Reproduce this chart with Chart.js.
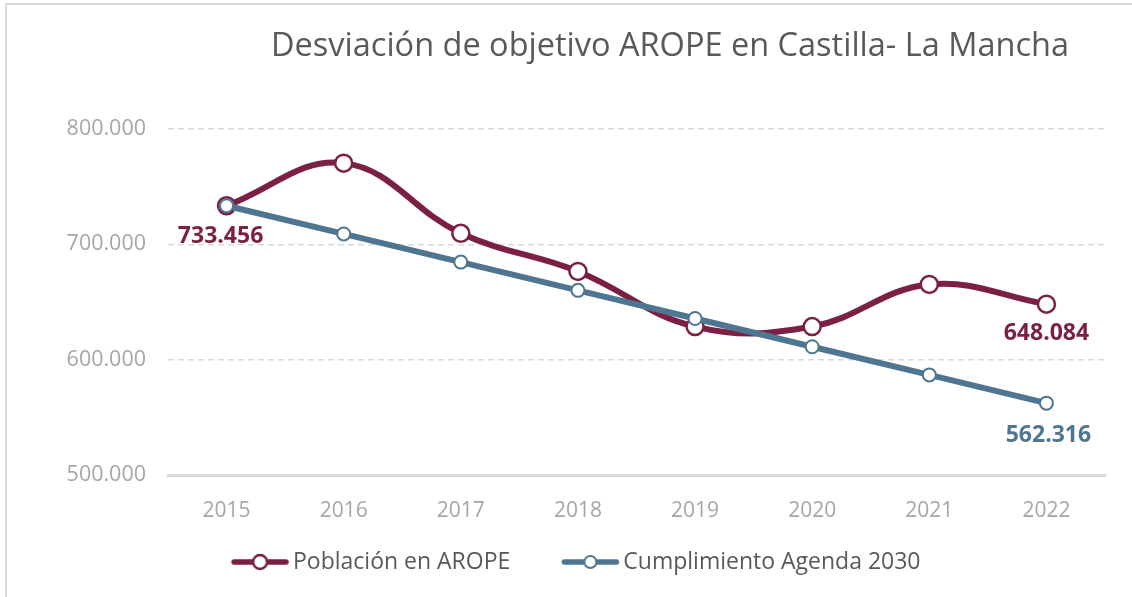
<!DOCTYPE html>
<html>
<head>
<meta charset="utf-8">
<script src="https://cdn.jsdelivr.net/npm/chart.js@4"></script>
<style>
  html, body { margin: 0; padding: 0; background: #ffffff; overflow: hidden; }
  #wrap { position: relative; width: 1132px; height: 597px; }
  #frame { position: absolute; left: 5px; top: 3px; width: 1200px; height: 700px; border: 2px solid #d9d9d9; box-sizing: border-box; pointer-events: none; }
  canvas { position: absolute; left: 0; top: 0; }
</style>
</head>
<body>
<div id="wrap">
  <canvas id="c" width="1132" height="597"></canvas>
  <div id="frame"></div>
</div>
<script>
const chartTitle = 'Desviación de objetivo AROPE en Castilla- La Mancha';
const categories = ['2015', '2016', '2017', '2018', '2019', '2020', '2021', '2022'];
const seriesNames = ['Población en AROPE', 'Cumplimiento Agenda 2030'];
const aropeValues = [733456, 770400, 709600, 676500, 628700, 628700, 665200, 648084];
const agendaValues = [733456, 709000, 684600, 660100, 635700, 611200, 586800, 562316];
const yTicks = [500000, 600000, 700000, 800000];
const labelledPoints = [
  { series: 0, index: 0, dx: -6, dy: 31 },
  { series: 0, index: 7, dx: 0, dy: 29 },
  { series: 1, index: 7, dx: 2, dy: 32 }
];

const maroon = '#7b1f45';
const steel = '#4f7690';
const grey = '#a6a6a6';
const dark = '#595959';
const FONT = "'Open Sans', 'DejaVu Sans', sans-serif";

function fmt(v) {
  return Math.round(v).toString().replace(/\B(?=(\d{3})+(?!\d))/g, '.');
}

// Legend marker: a line with a hollow circle, drawn into a canvas used as point style
const LEG_FONT = 23, LEG_PAD = 31.5, LEG_L = 19.5, LEG_BOX = 70;
function legendMarker(color, r, bw) {
  const W = 170;
  const cv = document.createElement('canvas');
  cv.width = W; cv.height = 24;
  const g = cv.getContext('2d');
  const center = W / 2;
  const startX = center + (LEG_L - LEG_BOX / 2);
  g.strokeStyle = color; g.lineWidth = 5.5; g.lineCap = 'round';
  g.beginPath(); g.moveTo(startX + 3, 12); g.lineTo(startX + 55, 12); g.stroke();
  g.beginPath(); g.arc(startX + 29, 12, r, 0, Math.PI * 2);
  g.fillStyle = '#ffffff'; g.fill();
  g.lineWidth = bw; g.strokeStyle = color; g.stroke();
  return cv;
}

const titlePlugin = {
  id: 'customTitle',
  afterDraw(chart) {
    const ctx = chart.ctx;
    ctx.save();
    ctx.font = '32.5px ' + FONT;
    ctx.fillStyle = dark;
    ctx.textAlign = 'center';
    ctx.textBaseline = 'middle';
    ctx.fillText(chartTitle, 670, 47);
    ctx.restore();
  }
};

const labelPlugin = {
  id: 'endLabels',
  afterDatasetsDraw(chart) {
    const ctx = chart.ctx;
    ctx.save();
    ctx.font = 'bold 23px ' + FONT;
    ctx.textAlign = 'center';
    ctx.textBaseline = 'middle';
    labelledPoints.forEach(p => {
      const el = chart.getDatasetMeta(p.series).data[p.index];
      const v = chart.data.datasets[p.series].data[p.index];
      ctx.fillStyle = p.series === 0 ? maroon : steel;
      ctx.fillText(fmt(v), el.x + p.dx, el.y + p.dy);
    });
    ctx.restore();
  }
};

new Chart(document.getElementById('c'), {
  type: 'line',
  data: {
    labels: categories,
    datasets: [
      {
        label: seriesNames[0],
        data: aropeValues,
        borderColor: maroon,
        backgroundColor: '#ffffff',
        borderWidth: 6,
        tension: 0.4,
        pointRadius: 8.5,
        pointBorderWidth: 2.5,
        pointBackgroundColor: '#ffffff',
        pointBorderColor: maroon,
        order: 1
      },
      {
        label: seriesNames[1],
        data: agendaValues,
        borderColor: steel,
        backgroundColor: '#ffffff',
        borderWidth: 6,
        tension: 0,
        pointRadius: 6.5,
        pointBorderWidth: 2,
        pointBackgroundColor: '#ffffff',
        pointBorderColor: steel,
        order: 0
      }
    ]
  },
  options: {
    responsive: false,
    animation: false,
    devicePixelRatio: 1,
    layout: { padding: { top: 129, left: 0, right: 0, bottom: 13.5 } },
    scales: {
      x: {
        offset: true,
        grid: { display: false, drawTicks: false },
        border: { display: true, color: '#d9d9d9', width: 3 },
        ticks: { color: grey, font: { family: FONT, size: 21 }, padding: 23 },
        afterFit(s) { s.height = 44; }
      },
      y: {
        min: 500000,
        max: 800000,
        afterBuildTicks(s) { s.ticks = yTicks.map(v => ({ value: v })); },
        grid: { color: '#d9d9d9', lineWidth: 1.5, drawTicks: false },
        border: { display: false, dash: [6, 4] },
        ticks: {
          color: grey, font: { family: FONT, size: 21.5 }, padding: 22,
          callback: v => fmt(v)
        },
        afterFit(s) { s.width = 168; }
      },
      y2: {
        position: 'right',
        display: true,
        grid: { display: false, drawTicks: false },
        border: { display: false },
        ticks: { display: false },
        afterFit(s) { s.width = 27; }
      }
    },
    plugins: {
      title: { display: false },
      tooltip: { enabled: false },
      legend: {
        display: true,
        position: 'bottom',
        labels: {
          color: dark,
          font: { family: FONT, size: LEG_FONT },
          usePointStyle: true,
          pointStyleWidth: LEG_BOX,
          padding: LEG_PAD,
          generateLabels(chart) {
            return chart.data.datasets.map((ds, i) => ({
              text: ds.label,
              fillStyle: '#ffffff',
              strokeStyle: ds.borderColor,
              lineWidth: 0,
              pointStyle: legendMarker(ds.borderColor, i === 0 ? 7 : 6, i === 0 ? 2.5 : 2),
              hidden: false,
              datasetIndex: i,
              fontColor: dark
            }));
          }
        }
      }
    }
  },
  plugins: [titlePlugin, labelPlugin]
});
</script>
</body>
</html>
